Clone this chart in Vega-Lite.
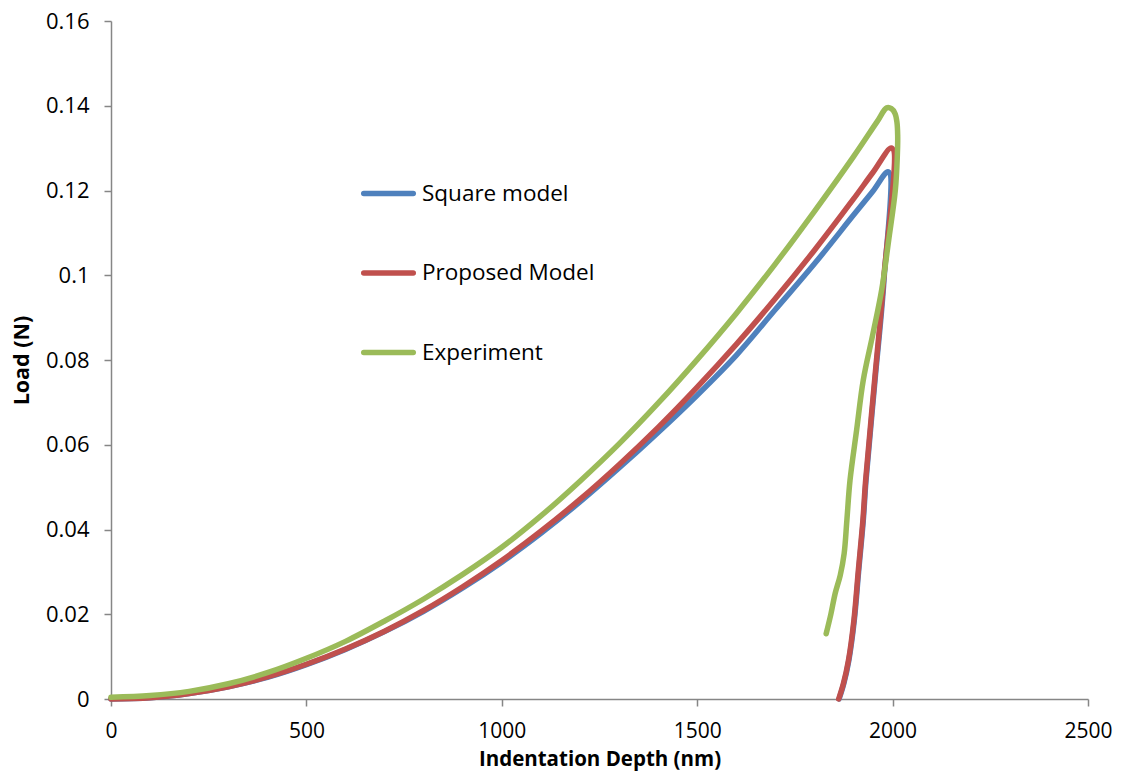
{
  "$schema": "https://vega.github.io/schema/vega-lite/v6.json",
  "width": 977,
  "height": 678,
  "autosize": "none",
  "padding": {"left": 111, "top": 21, "right": 37, "bottom": 72},
  "background": "white",
  "config": {"view": {"stroke": null}, "font": "Open Sans"},
  "data": {
    "values": [
      {"series": "Square model", "k": 1, "depth": 0, "load": 0},
      {"series": "Square model", "k": 2, "depth": 100, "load": 0.0003},
      {"series": "Square model", "k": 3, "depth": 200, "load": 0.0013},
      {"series": "Square model", "k": 4, "depth": 300, "load": 0.0029},
      {"series": "Square model", "k": 5, "depth": 400, "load": 0.0051},
      {"series": "Square model", "k": 6, "depth": 500, "load": 0.0081},
      {"series": "Square model", "k": 7, "depth": 600, "load": 0.0117},
      {"series": "Square model", "k": 8, "depth": 700, "load": 0.0159},
      {"series": "Square model", "k": 9, "depth": 800, "load": 0.0207},
      {"series": "Square model", "k": 10, "depth": 900, "load": 0.0262},
      {"series": "Square model", "k": 11, "depth": 1000, "load": 0.0323},
      {"series": "Square model", "k": 12, "depth": 1100, "load": 0.0391},
      {"series": "Square model", "k": 13, "depth": 1200, "load": 0.0465},
      {"series": "Square model", "k": 14, "depth": 1300, "load": 0.0545},
      {"series": "Square model", "k": 15, "depth": 1400, "load": 0.0629},
      {"series": "Square model", "k": 16, "depth": 1500, "load": 0.0717},
      {"series": "Square model", "k": 17, "depth": 1600, "load": 0.0811},
      {"series": "Square model", "k": 18, "depth": 1700, "load": 0.0919},
      {"series": "Square model", "k": 19, "depth": 1800, "load": 0.1027},
      {"series": "Square model", "k": 20, "depth": 1900, "load": 0.1142},
      {"series": "Square model", "k": 21, "depth": 1950, "load": 0.1199},
      {"series": "Square model", "k": 22, "depth": 1989, "load": 0.1244},
      {"series": "Square model", "k": 23, "depth": 1978, "load": 0.0989},
      {"series": "Square model", "k": 24, "depth": 1955, "load": 0.0752},
      {"series": "Square model", "k": 25, "depth": 1932, "load": 0.0516},
      {"series": "Square model", "k": 26, "depth": 1925, "load": 0.0422},
      {"series": "Square model", "k": 27, "depth": 1913, "load": 0.03},
      {"series": "Square model", "k": 28, "depth": 1902, "load": 0.0186},
      {"series": "Square model", "k": 29, "depth": 1888, "load": 0.0091},
      {"series": "Square model", "k": 30, "depth": 1875, "load": 0.0036},
      {"series": "Square model", "k": 31, "depth": 1863, "load": 0},

      {"series": "Proposed Model", "k": 1, "depth": 0, "load": 0},
      {"series": "Proposed Model", "k": 2, "depth": 100, "load": 0.0003},
      {"series": "Proposed Model", "k": 3, "depth": 200, "load": 0.0013},
      {"series": "Proposed Model", "k": 4, "depth": 300, "load": 0.0029},
      {"series": "Proposed Model", "k": 5, "depth": 400, "load": 0.0052},
      {"series": "Proposed Model", "k": 6, "depth": 500, "load": 0.0082},
      {"series": "Proposed Model", "k": 7, "depth": 600, "load": 0.0118},
      {"series": "Proposed Model", "k": 8, "depth": 700, "load": 0.016},
      {"series": "Proposed Model", "k": 9, "depth": 800, "load": 0.0209},
      {"series": "Proposed Model", "k": 10, "depth": 900, "load": 0.0265},
      {"series": "Proposed Model", "k": 11, "depth": 1000, "load": 0.0327},
      {"series": "Proposed Model", "k": 12, "depth": 1100, "load": 0.0396},
      {"series": "Proposed Model", "k": 13, "depth": 1200, "load": 0.0471},
      {"series": "Proposed Model", "k": 14, "depth": 1300, "load": 0.0553},
      {"series": "Proposed Model", "k": 15, "depth": 1400, "load": 0.0641},
      {"series": "Proposed Model", "k": 16, "depth": 1500, "load": 0.0736},
      {"series": "Proposed Model", "k": 17, "depth": 1600, "load": 0.0837},
      {"series": "Proposed Model", "k": 18, "depth": 1700, "load": 0.0945},
      {"series": "Proposed Model", "k": 19, "depth": 1800, "load": 0.1059},
      {"series": "Proposed Model", "k": 20, "depth": 1900, "load": 0.118},
      {"series": "Proposed Model", "k": 21, "depth": 1950, "load": 0.1243},
      {"series": "Proposed Model", "k": 22, "depth": 1998, "load": 0.13},
      {"series": "Proposed Model", "k": 23, "depth": 1977, "load": 0.0989},
      {"series": "Proposed Model", "k": 24, "depth": 1954, "load": 0.0752},
      {"series": "Proposed Model", "k": 25, "depth": 1931, "load": 0.0516},
      {"series": "Proposed Model", "k": 26, "depth": 1924, "load": 0.0422},
      {"series": "Proposed Model", "k": 27, "depth": 1912, "load": 0.03},
      {"series": "Proposed Model", "k": 28, "depth": 1901, "load": 0.0186},
      {"series": "Proposed Model", "k": 29, "depth": 1887, "load": 0.0091},
      {"series": "Proposed Model", "k": 30, "depth": 1874, "load": 0.0036},
      {"series": "Proposed Model", "k": 31, "depth": 1862, "load": 0},

      {"series": "Experiment", "k": 1, "depth": 0, "load": 0.0004},
      {"series": "Experiment", "k": 2, "depth": 100, "load": 0.0008},
      {"series": "Experiment", "k": 3, "depth": 200, "load": 0.0018},
      {"series": "Experiment", "k": 4, "depth": 300, "load": 0.0036},
      {"series": "Experiment", "k": 5, "depth": 400, "load": 0.0062},
      {"series": "Experiment", "k": 6, "depth": 500, "load": 0.0096},
      {"series": "Experiment", "k": 7, "depth": 600, "load": 0.0136},
      {"series": "Experiment", "k": 8, "depth": 700, "load": 0.0184},
      {"series": "Experiment", "k": 9, "depth": 800, "load": 0.0236},
      {"series": "Experiment", "k": 10, "depth": 900, "load": 0.0294},
      {"series": "Experiment", "k": 11, "depth": 1000, "load": 0.0358},
      {"series": "Experiment", "k": 12, "depth": 1100, "load": 0.0432},
      {"series": "Experiment", "k": 13, "depth": 1200, "load": 0.0514},
      {"series": "Experiment", "k": 14, "depth": 1300, "load": 0.0602},
      {"series": "Experiment", "k": 15, "depth": 1400, "load": 0.0698},
      {"series": "Experiment", "k": 16, "depth": 1500, "load": 0.0801},
      {"series": "Experiment", "k": 17, "depth": 1600, "load": 0.091},
      {"series": "Experiment", "k": 18, "depth": 1700, "load": 0.1027},
      {"series": "Experiment", "k": 19, "depth": 1800, "load": 0.1151},
      {"series": "Experiment", "k": 20, "depth": 1900, "load": 0.128},
      {"series": "Experiment", "k": 21, "depth": 1960, "load": 0.1362},
      {"series": "Experiment", "k": 22, "depth": 1985, "load": 0.1395},
      {"series": "Experiment", "k": 23, "depth": 1997, "load": 0.1393},
      {"series": "Experiment", "k": 24, "depth": 2006, "load": 0.1382},
      {"series": "Experiment", "k": 25, "depth": 2011, "load": 0.1362},
      {"series": "Experiment", "k": 26, "depth": 2013, "load": 0.133},
      {"series": "Experiment", "k": 27, "depth": 2012, "load": 0.128},
      {"series": "Experiment", "k": 28, "depth": 2007, "load": 0.1201},
      {"series": "Experiment", "k": 29, "depth": 1990, "load": 0.1083},
      {"series": "Experiment", "k": 30, "depth": 1972, "load": 0.0965},
      {"series": "Experiment", "k": 31, "depth": 1949, "load": 0.0859},
      {"series": "Experiment", "k": 32, "depth": 1925, "load": 0.0753},
      {"series": "Experiment", "k": 33, "depth": 1908, "load": 0.0635},
      {"series": "Experiment", "k": 34, "depth": 1891, "load": 0.0516},
      {"series": "Experiment", "k": 35, "depth": 1883, "load": 0.0422},
      {"series": "Experiment", "k": 36, "depth": 1876, "load": 0.0343},
      {"series": "Experiment", "k": 37, "depth": 1866, "load": 0.0292},
      {"series": "Experiment", "k": 38, "depth": 1853, "load": 0.0249},
      {"series": "Experiment", "k": 39, "depth": 1842, "load": 0.02},
      {"series": "Experiment", "k": 40, "depth": 1830, "load": 0.0154}
    ]
  },
  "encoding": {
    "x": {
      "field": "depth",
      "type": "quantitative",
      "scale": {"domain": [0, 2500], "nice": false, "zero": false},
      "axis": {
        "title": "Indentation Depth (nm)",
        "values": [0, 500, 1000, 1500, 2000, 2500],
        "format": "d",
        "grid": false,
        "domainColor": "#868686",
        "domainWidth": 1.5,
        "tickColor": "#868686",
        "tickWidth": 1.5,
        "tickSize": 7,
        "labelFont": "Open Sans",
        "labelFontSize": 21,
        "labelColor": "black",
        "labelBaseline": "alphabetic",
        "labelPadding": 31,
        "labelFlush": false,
        "labelOverlap": false,
        "titleFont": "Open Sans",
        "titleFontWeight": "bold",
        "titleFontSize": 20.5,
        "titleColor": "black",
        "titleBaseline": "alphabetic",
        "titleY": 66
      }
    },
    "y": {
      "field": "load",
      "type": "quantitative",
      "scale": {"domain": [0, 0.16], "nice": false},
      "axis": {
        "title": "Load (N)",
        "values": [0, 0.02, 0.04, 0.06, 0.08, 0.1, 0.12, 0.14, 0.16],
        "format": "~g",
        "grid": false,
        "domainColor": "#868686",
        "domainWidth": 1.5,
        "tickColor": "#868686",
        "tickWidth": 1.5,
        "tickSize": 7,
        "labelFont": "Open Sans",
        "labelFontSize": 22,
        "labelColor": "black",
        "labelPadding": 15,
        "labelFlush": false,
        "labelOverlap": false,
        "titleFont": "Open Sans",
        "titleFontWeight": "bold",
        "titleFontSize": 21.5,
        "titleColor": "black",
        "titleBaseline": "alphabetic",
        "titleX": -83,
        "titleY": 339
      }
    },
    "order": {"field": "k", "type": "quantitative"},
    "color": {
      "field": "series",
      "type": "nominal",
      "scale": {
        "domain": ["Square model", "Proposed Model", "Experiment"],
        "range": ["#4F81BD", "#C0504D", "#9BBB59"]
      },
      "legend": {
        "orient": "none",
        "legendX": 250,
        "legendY": 145,
        "title": null,
        "padding": 0,
        "symbolType": "stroke",
        "symbolSize": 2450,
        "symbolStrokeWidth": 5.5,
        "labelFont": "Open Sans",
        "labelFontSize": 22.5,
        "labelColor": "black",
        "labelLimit": 0,
        "labelOffset": 6,
        "rowPadding": 40.5,
        "direction": "vertical",
        "encode": {"symbols": {"update": {"strokeCap": {"value": "round"}}}}
      }
    }
  },
  "layer": [
    {
      "transform": [{"filter": "datum.series === 'Square model'"}],
      "mark": {"type": "line", "strokeWidth": 5.5, "interpolate": "catmull-rom", "strokeCap": "round", "strokeJoin": "round"}
    },
    {
      "transform": [{"filter": "datum.series === 'Proposed Model'"}],
      "mark": {"type": "line", "strokeWidth": 5.5, "interpolate": "catmull-rom", "strokeCap": "round", "strokeJoin": "round"}
    },
    {
      "transform": [{"filter": "datum.series === 'Experiment'"}],
      "mark": {"type": "line", "strokeWidth": 5.5, "interpolate": "catmull-rom", "strokeCap": "round", "strokeJoin": "round"}
    }
  ]
}
